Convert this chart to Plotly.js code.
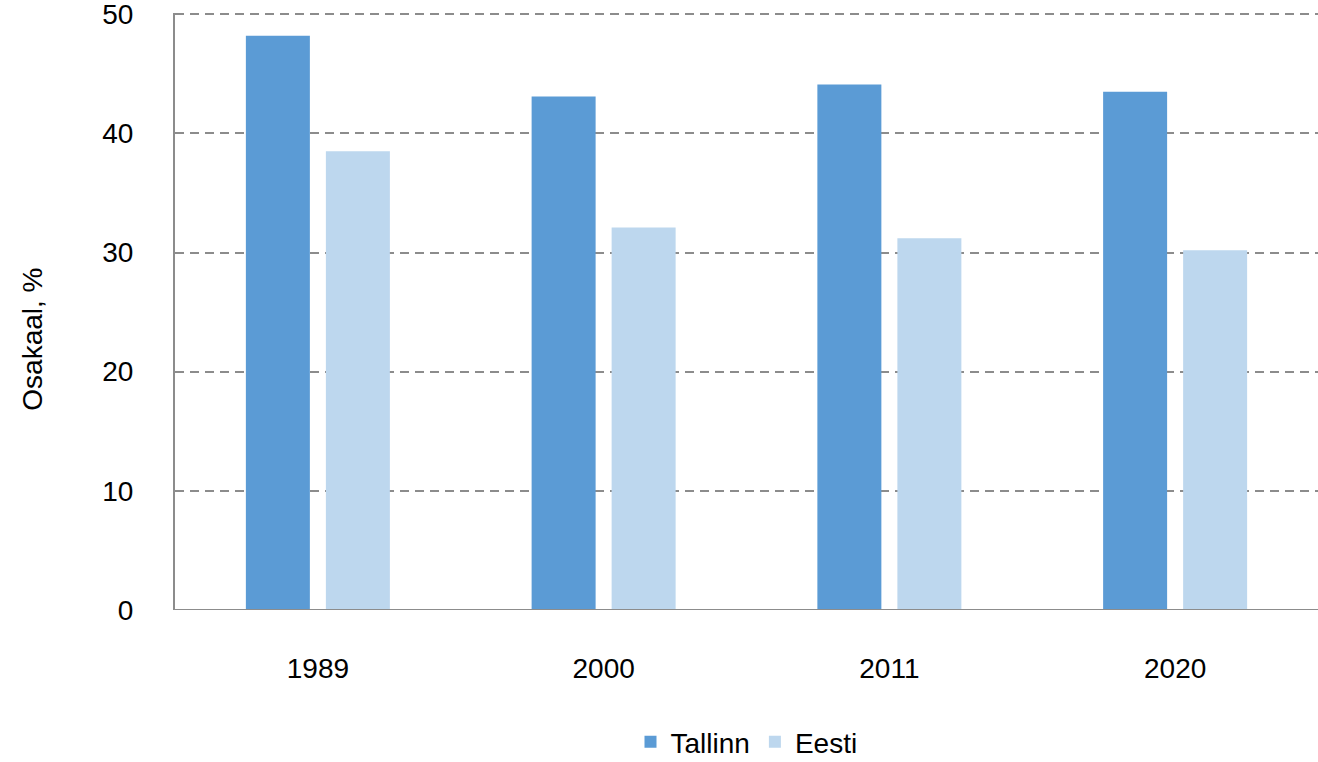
<!DOCTYPE html>
<html>
<head>
<meta charset="utf-8">
<script src="https://cdn.plot.ly/plotly-3.0.1.min.js"></script>
<style>html,body{margin:0;padding:0;background:#fff;}#chart{width:1318px;height:762px;}</style>
</head>
<body>
<div id="chart"></div>
<script>
const years = ["1989", "2000", "2011", "2020"];
const tallinn = [48.2, 43.1, 44.1, 43.5];
const eesti = [38.5, 32.1, 31.2, 30.2];
const yTicks = [0, 10, 20, 30, 40, 50];

const font = {family: "Liberation Sans, Arial, sans-serif", size: 28, color: "#000"};

const data = [
  {type: "bar", name: "Tallinn", x: years, y: tallinn, marker: {color: "#5b9bd5"}},
  {type: "bar", name: "Eesti", x: years, y: eesti, marker: {color: "#bdd7ee"}}
];

const layout = {
  width: 1318, height: 762,
  margin: {l: 175, r: 0, t: 13, b: 152, autoexpand: false},
  paper_bgcolor: "#fff", plot_bgcolor: "#fff",
  font: font,
  barmode: "group",
  bargap: 0.44,
  bargroupgap: 0.2,
  showlegend: true,
  legend: {orientation: "h", x: 0.5, xanchor: "center", y: -0.221, yanchor: "middle",
           font: font},
  xaxis: {
    type: "category", range: [-0.5, 3.5],
    showgrid: false, zeroline: false,
    showline: false,
    ticks: "outside", ticklen: 33, tickcolor: "rgba(0,0,0,0)",
    tickfont: font
  },
  yaxis: {
    range: [0, 50.1], tickvals: yTicks, ticktext: yTicks.map(String),
    showgrid: true, gridcolor: "#8c8c8c", gridwidth: 2, griddash: "9px,6px",
    zeroline: false,
    showline: true, linecolor: "#8c8c8c", linewidth: 2,
    ticks: "outside", ticklen: 34, tickcolor: "rgba(0,0,0,0)",
    ticklabeloverflow: "allow",
    tickfont: font
  },
  shapes: [
    {type: "line", xref: "paper", yref: "y", x0: 0, x1: 1, y0: 0, y1: 0,
     line: {color: "#8c8c8c", width: 2}}
  ],
  annotations: [
    {text: "Osakaal, %", xref: "paper", yref: "paper", x: -0.125, y: 0.453,
     xanchor: "center", yanchor: "middle", textangle: -90, showarrow: false, font: font}
  ]
};

Plotly.newPlot("chart", data, layout, {displayModeBar: false, staticPlot: true});
</script>
</body>
</html>
